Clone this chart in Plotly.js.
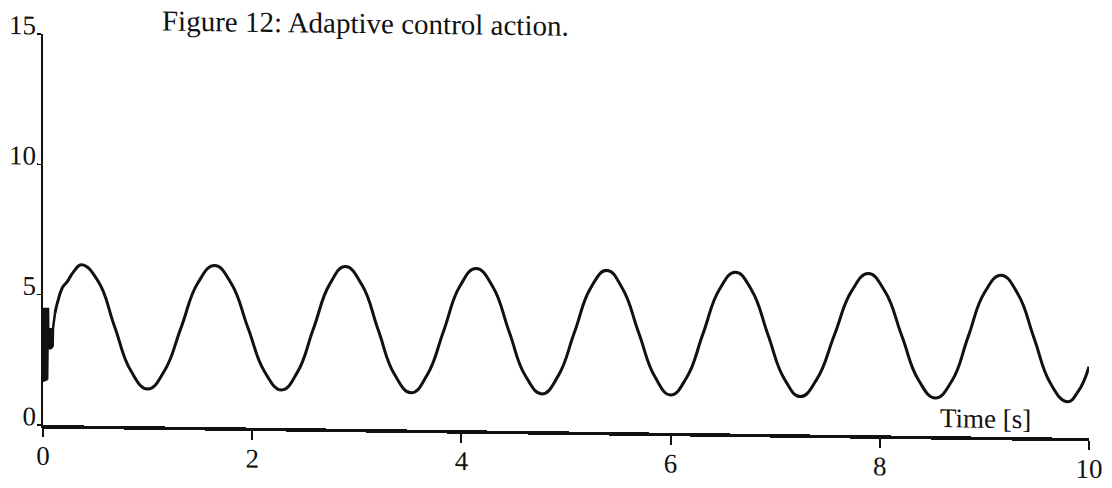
<!DOCTYPE html>
<html>
<head>
<meta charset="utf-8">
<script src="https://cdn.plot.ly/plotly-3.0.1.min.js"></script>
<style>
  html, body { margin: 0; padding: 0; background: #ffffff; }
  #chart {
    width: 1112px; height: 488px;
    /* the printed page sits slightly askew */
    transform: skewY(0.71deg);
    transform-origin: 43px 425px;
  }
</style>
</head>
<body>
<div id="chart"></div>
<script>
// Start-up transient: the control signal chatters before settling
const chatterTime = [0, 0.004, 0.008, 0.012, 0.016, 0.020, 0.024, 0.028, 0.032, 0.036, 0.040, 0.044,
                     0.048, 0.052, 0.056, 0.060, 0.064, 0.068, 0.072, 0.076, 0.080, 0.084, 0.088, 0.092, 0.096, 0.105, 0.115];
const chatterValue = [1.65, 4.50, 1.70, 4.45, 1.68, 4.50, 1.72, 4.48, 1.70, 4.50, 1.75, 4.46,
                      4.50, 3.00, 3.72, 2.92, 3.72, 2.90, 3.70, 2.92, 3.72, 2.95, 3.70, 3.00, 3.72, 4.00, 4.30];

// Adaptive control action after the transient
const time = [0.115, 0.14, 0.19, 0.23, 0.29, 0.37,
              0.53, 0.685, 0.84, 1.00,
              1.16, 1.32, 1.48, 1.64,
              1.80, 1.96, 2.12, 2.28,
              2.43, 2.585, 2.74, 2.89,
              3.05, 3.205, 3.36, 3.52,
              3.675, 3.83, 3.985, 4.14,
              4.30, 4.455, 4.61, 4.77,
              4.925, 5.08, 5.235, 5.39,
              5.54, 5.695, 5.85, 6.00,
              6.155, 6.31, 6.465, 6.62,
              6.775, 6.93, 7.085, 7.24,
              7.40, 7.565, 7.73, 7.89,
              8.05, 8.21, 8.37, 8.53,
              8.69, 8.845, 9.00, 9.16,
              9.32, 9.475, 9.63, 9.79,
              9.90, 10.0];
const action = [4.30, 4.73, 5.31, 5.50, 5.88, 6.17,
                5.52, 3.80, 2.12, 1.43,
                2.13, 3.80, 5.52, 6.20,
                5.52, 3.82, 2.14, 1.46,
                2.13, 3.82, 5.53, 6.22,
                5.52, 3.80, 2.11, 1.41,
                2.12, 3.80, 5.52, 6.21,
                5.52, 3.82, 2.13, 1.43,
                2.13, 3.80, 5.51, 6.20,
                5.51, 3.82, 2.14, 1.45,
                2.14, 3.82, 5.51, 6.19,
                5.51, 3.82, 2.14, 1.45,
                2.14, 3.82, 5.52, 6.20,
                5.52, 3.83, 2.14, 1.46,
                2.13, 3.83, 5.52, 6.20,
                5.49, 3.80, 2.09, 1.38,
                1.80, 2.73];

const xTicks = [0, 2, 4, 6, 8, 10];
const xTickText = ['0', '2', '4', '6', '8', '10'];
const yTicks = [0, 5, 10, 15];
const yTickText = ['0', '5', '10', '15'];

const serif = 'Liberation Serif, Times New Roman, serif';
const ink = '#111111';

const traces = [
  {
    x: chatterTime, y: chatterValue, type: 'scatter', mode: 'lines',
    line: { color: ink, width: 2.5, shape: 'linear' },
    hoverinfo: 'skip', showlegend: false
  },
  {
    x: time, y: action, type: 'scatter', mode: 'lines',
    line: { color: ink, width: 3, shape: 'spline', smoothing: 1.3 },
    showlegend: false
  }
];

const layout = {
  width: 1112, height: 488,
  margin: { l: 43, r: 23, t: 34, b: 63 },
  paper_bgcolor: '#ffffff', plot_bgcolor: '#ffffff',
  showlegend: false,
  title: {
    text: 'Figure 12: Adaptive control action.',
    font: { family: serif, size: 29, color: ink },
    x: 162 / 1112, xanchor: 'left', xref: 'container',
    y: 1 - 19 / 488, yanchor: 'middle', yref: 'container'
  },
  xaxis: {
    range: [0, 10],
    showgrid: false, zeroline: false,
    showline: true, linecolor: ink, linewidth: 3.5,
    ticks: 'outside', ticklen: 9, tickwidth: 2, tickcolor: ink,
    tickvals: xTicks, ticktext: xTickText,
    ticklabelstandoff: -5,
    tickfont: { family: serif, size: 27, color: ink }
  },
  yaxis: {
    range: [0, 15],
    showgrid: false, zeroline: false,
    showline: true, linecolor: ink, linewidth: 2.5,
    ticks: 'outside', ticklen: 4, tickwidth: 1.5, tickcolor: ink,
    tickvals: yTicks, ticktext: yTickText,
    ticklabelshift: -9, ticklabelstandoff: -5,
    tickfont: { family: serif, size: 27, color: ink }
  },
  annotations: [
    {
      text: 'Time [s]', x: 9.01, y: 0, xref: 'x', yref: 'y',
      xanchor: 'center', yanchor: 'bottom', yshift: 1, showarrow: false,
      font: { family: serif, size: 27, color: ink }
    }
  ]
};

Plotly.newPlot('chart', traces, layout, { displayModeBar: false, staticPlot: true });
</script>
</body>
</html>
